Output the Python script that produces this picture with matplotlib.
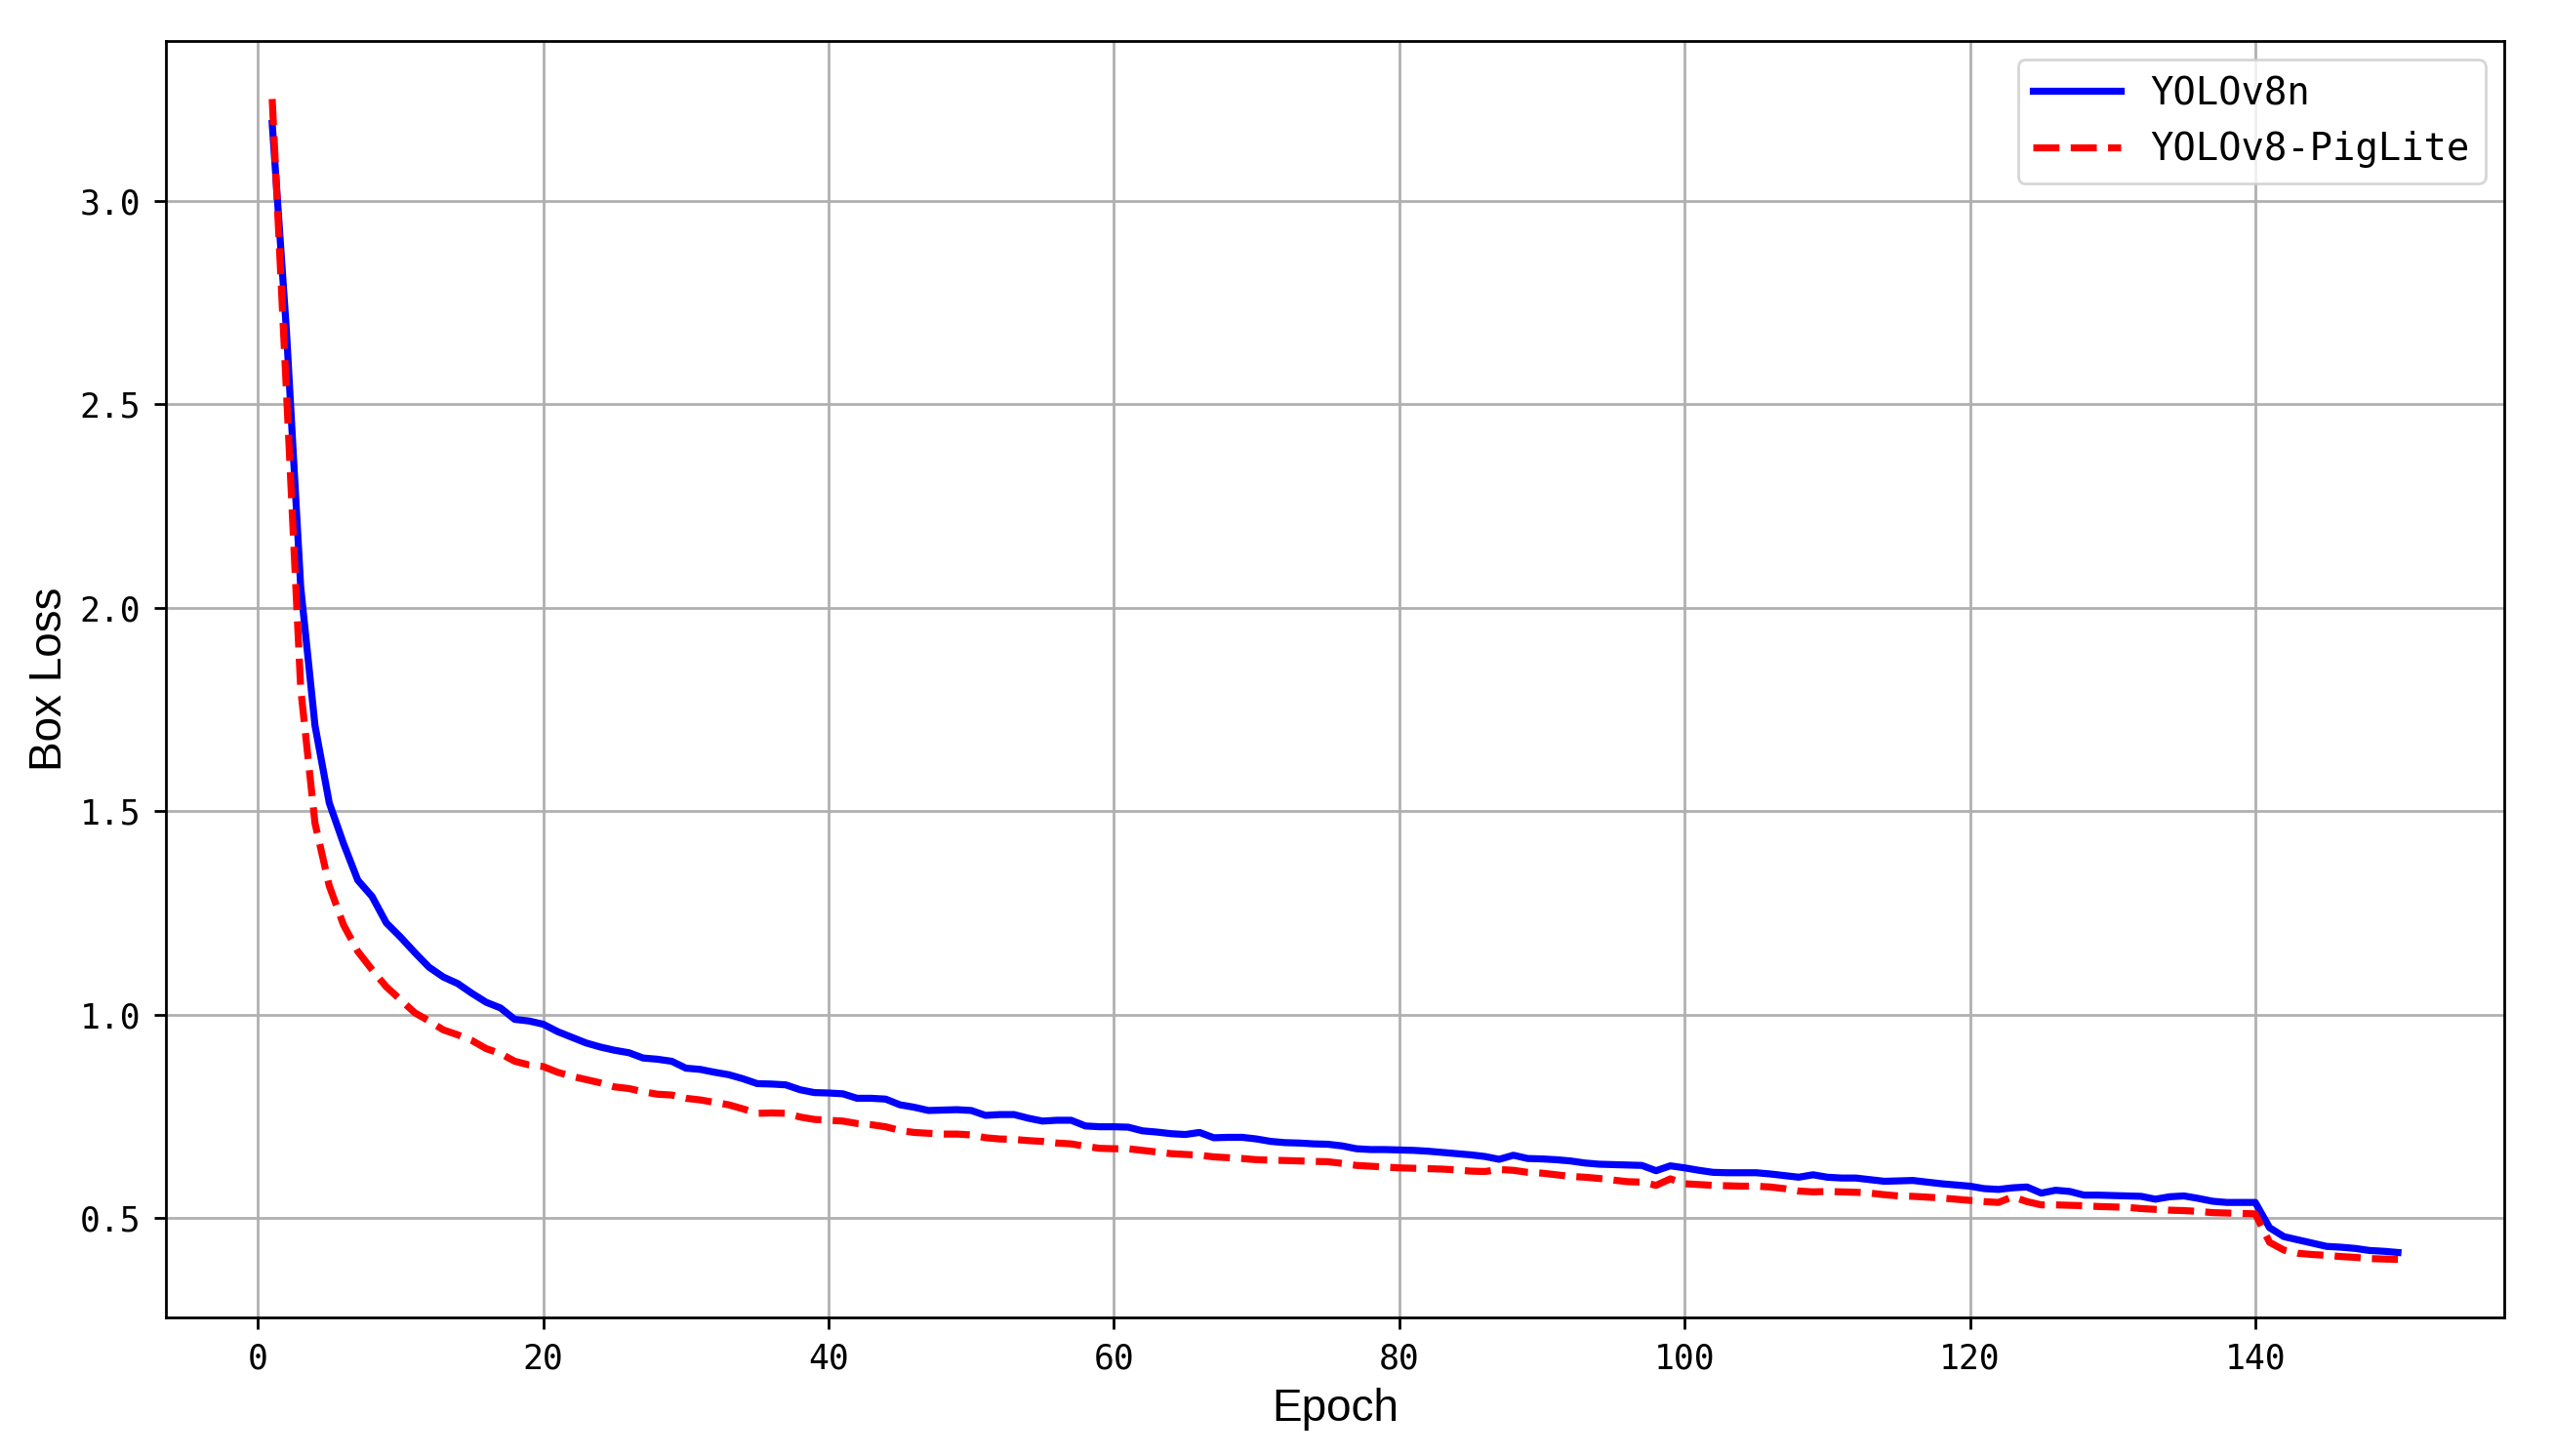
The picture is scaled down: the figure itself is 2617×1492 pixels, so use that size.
import matplotlib
matplotlib.use("Agg")
import matplotlib.pyplot as plt

# ---- data ----
epochs = list(range(1, 151))

yolov8n = [
    3.19, 2.68, 2.05, 1.71, 1.52, 1.42, 1.33, 1.29, 1.225, 1.19,
    1.152, 1.116, 1.092, 1.076, 1.052, 1.030, 1.016, 0.988, 0.984, 0.976,
    0.958, 0.944, 0.930, 0.920, 0.912, 0.906, 0.893, 0.890, 0.885, 0.868,
    0.865, 0.858, 0.852, 0.842, 0.830, 0.829, 0.827, 0.815, 0.808, 0.807,
    0.805, 0.794, 0.794, 0.792, 0.778, 0.772, 0.764, 0.765, 0.766, 0.764,
    0.752, 0.754, 0.754, 0.745, 0.738, 0.740, 0.740, 0.726, 0.724, 0.724,
    0.723, 0.714, 0.711, 0.707, 0.705, 0.710, 0.697, 0.698, 0.698, 0.694,
    0.688, 0.685, 0.684, 0.682, 0.681, 0.677, 0.670, 0.668, 0.668, 0.667,
    0.666, 0.664, 0.661, 0.658, 0.655, 0.651, 0.644, 0.654, 0.646, 0.645,
    0.643, 0.640, 0.635, 0.632, 0.631, 0.630, 0.629, 0.616, 0.628, 0.623,
    0.617, 0.612, 0.611, 0.611, 0.611, 0.608, 0.604, 0.600, 0.606, 0.600,
    0.598, 0.598, 0.594, 0.590, 0.591, 0.592, 0.588, 0.584, 0.581, 0.578,
    0.572, 0.570, 0.574, 0.576, 0.561, 0.568, 0.565, 0.556, 0.556, 0.555,
    0.554, 0.553, 0.546, 0.552, 0.554, 0.548, 0.541, 0.538, 0.538, 0.538,
    0.476, 0.454, 0.446, 0.438, 0.430, 0.428, 0.425, 0.420, 0.418, 0.415,
]

yolov8_piglite = [
    3.25, 2.53, 1.80, 1.47, 1.316, 1.22, 1.155, 1.11, 1.068, 1.036,
    1.004, 0.984, 0.962, 0.950, 0.936, 0.916, 0.904, 0.885, 0.876, 0.872,
    0.858, 0.848, 0.840, 0.832, 0.822, 0.818, 0.810, 0.804, 0.802, 0.794,
    0.790, 0.784, 0.778, 0.768, 0.757, 0.758, 0.757, 0.748, 0.742, 0.740,
    0.738, 0.732, 0.729, 0.724, 0.715, 0.710, 0.708, 0.706, 0.706, 0.704,
    0.697, 0.694, 0.693, 0.690, 0.688, 0.684, 0.682, 0.676, 0.671, 0.670,
    0.670, 0.666, 0.662, 0.658, 0.656, 0.654, 0.650, 0.648, 0.646, 0.643,
    0.642, 0.641, 0.640, 0.639, 0.638, 0.634, 0.629, 0.627, 0.625, 0.623,
    0.622, 0.621, 0.620, 0.618, 0.615, 0.614, 0.619, 0.617, 0.612, 0.610,
    0.606, 0.602, 0.600, 0.597, 0.593, 0.589, 0.588, 0.580, 0.596, 0.584,
    0.582, 0.580, 0.579, 0.578, 0.578, 0.576, 0.572, 0.566, 0.564, 0.565,
    0.564, 0.563, 0.561, 0.557, 0.554, 0.553, 0.551, 0.549, 0.546, 0.543,
    0.540, 0.538, 0.552, 0.540, 0.532, 0.532, 0.531, 0.530, 0.528, 0.527,
    0.526, 0.523, 0.521, 0.519, 0.518, 0.516, 0.513, 0.512, 0.511, 0.510,
    0.440, 0.421, 0.413, 0.410, 0.408, 0.405, 0.403, 0.400, 0.399, 0.398,
]

series_labels = ["YOLOv8n", "YOLOv8-PigLite"]
x_label = "Epoch"
y_label = "Box Loss"
x_ticks = [0, 20, 40, 60, 80, 100, 120, 140]
y_ticks = [0.5, 1.0, 1.5, 2.0, 2.5, 3.0]

# ---- figure ----
W, H, DPI = 2617, 1492, 200
fig = plt.figure(figsize=(W / DPI, H / DPI), dpi=DPI)
left, right, top, bottom = 170, 2566, 42, 1350
ax = fig.add_axes([left / W, 1 - bottom / H, (right - left) / W, (bottom - top) / H])

ax.plot(epochs, yolov8n, color="blue", lw=2.6, ls="-", label=series_labels[0], zorder=3)
ax.plot(epochs, yolov8_piglite, color="red", lw=2.6, ls="--", label=series_labels[1], zorder=4)

ax.set_xticks(x_ticks)
ax.set_yticks(y_ticks)
mono = ["DejaVu Sans Mono"]
ax.set_xticklabels([str(t) for t in x_ticks], family=mono, fontsize=12.5)
ax.set_yticklabels([f"{t:.1f}" for t in y_ticks], family=mono, fontsize=12.5)
ax.tick_params(axis="both", length=4.3, width=1.0, pad=5, colors="black")

ax.grid(True, color="#b0b0b0", lw=1.0)
ax.set_axisbelow(True)
for s in ax.spines.values():
    s.set_linewidth(1.0)
    s.set_color("black")

ax.set_xlabel(x_label, family=["Liberation Sans", "DejaVu Sans"], fontsize=16.5, labelpad=4.5)
ax.set_ylabel(y_label, family=["Liberation Sans", "DejaVu Sans"], fontsize=16.5, labelpad=3)

leg = ax.legend(loc="upper right", prop={"family": "DejaVu Sans Mono", "size": 14},
                handlelength=2.3, fancybox=True)

fig.savefig("out.png", dpi=DPI)
